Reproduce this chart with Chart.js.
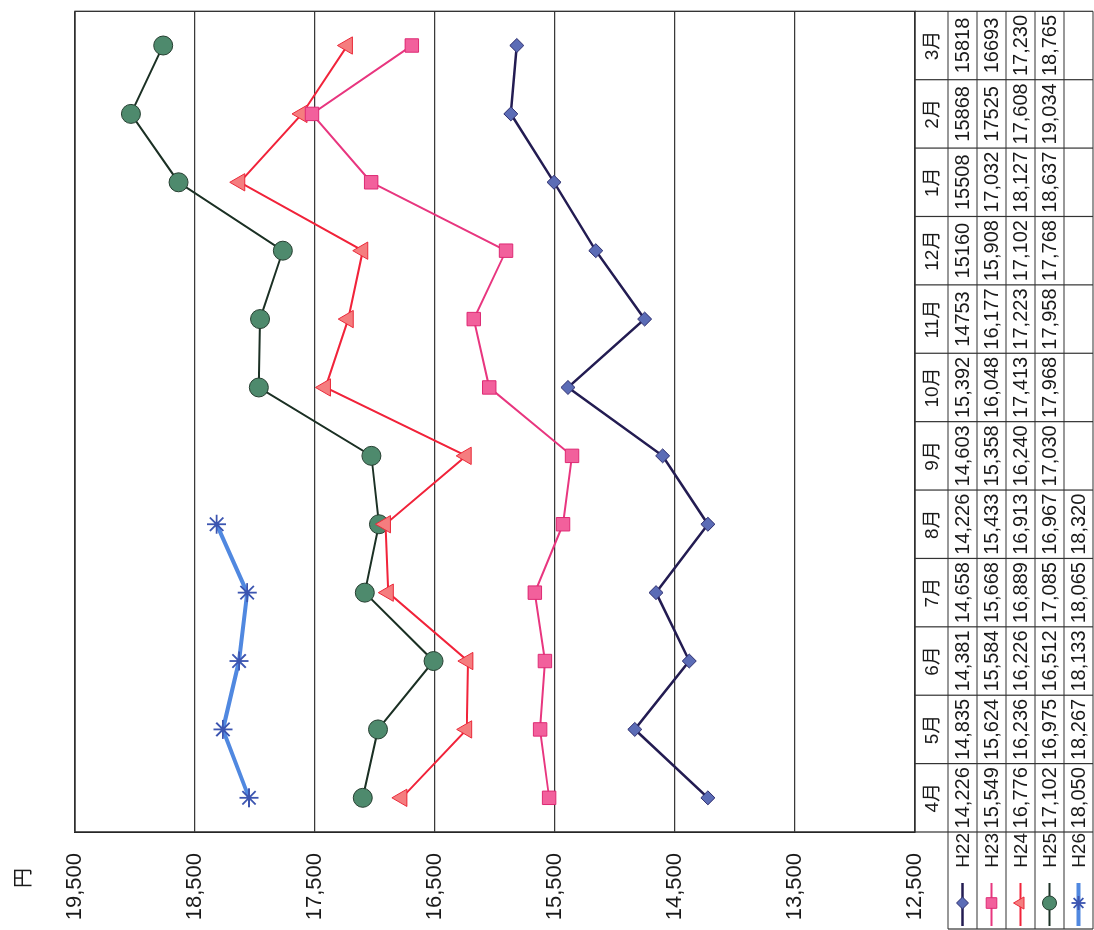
<!DOCTYPE html>
<html><head><meta charset="utf-8">
<script src="https://cdn.jsdelivr.net/npm/chart.js@4/dist/chart.umd.min.js"></script>
<style>
html,body{margin:0;padding:0;background:#fff;overflow:hidden;width:1094px;height:930px;}
#wrap{position:absolute;left:0;top:0;width:930px;height:1094px;transform-origin:0 0;transform:translateY(930px) rotate(-90deg);}
canvas{display:block;}
</style></head><body>
<div id="wrap"><canvas id="c" width="930" height="1094"></canvas></div>
<script>
// ---- data ----
const months = ['4月','5月','6月','7月','8月','9月','10月','11月','12月','1月','2月','3月'];
const seriesNames = ['H22','H23','H24','H25','H26'];
const h22 = [14226,14835,14381,14658,14226,14603,15392,14753,15160,15508,15868,15818];
const h23 = [15549,15624,15584,15668,15433,15358,16048,16177,15908,17032,17525,16693];
const h24 = [16776,16236,16226,16889,16913,16240,17413,17223,17102,18127,17608,17230];
const h25 = [17102,16975,16512,17085,16967,17030,17968,17958,17768,18637,19034,18765];
const h26 = [18050,18267,18133,18065,18320];
const valueTicks = [12500,13500,14500,15500,16500,17500,18500,19500];
const axisUnit = '円';
// table cells printed without thousands separator in the source
const plainCells = {H22:[7,8,9,10,11], H23:[10,11]};

const fontLatin = '"Liberation Sans", "Noto Sans CJK JP", sans-serif';
const fmt = v => v.toLocaleString('en-US');

const styles = [
  {line:'#231c52', w:2.5, ps:'rectRot', r:7, bg:'#5b6cb6', bd:'#2d2d6e', bw:1, lr:6},
  {line:'#e8367f', w:2, ps:'rect', r:9.5, bg:'#f2609c', bd:'#de2a74', bw:1, lr:7.5},
  {line:'#f1233a', w:2, ps:'triangle', r:10, bg:'#f57d7f', bd:'#ea2a3a', bw:1, lr:7},
  {line:'#1b3024', w:2, ps:'circle', r:9.5, bg:'#4e8a6d', bd:'#263f31', bw:1, lr:7},
  {line:'#5088e0', w:4, ps:'star', r:9.5, bg:'rgba(0,0,0,0)', bd:'#3c55b0', bw:1.8, lr:7}
];
const seriesData = [h22,h23,h24,h25,h26];

const datasets = seriesData.map((d,i)=>({
  label: seriesNames[i], data: d,
  borderColor: styles[i].line, borderWidth: styles[i].w, tension: 0,
  pointStyle: styles[i].ps, pointRadius: styles[i].r,
  pointBackgroundColor: styles[i].bg, pointBorderColor: styles[i].bd,
  pointBorderWidth: styles[i].bw, fill:false
}));

const tablePlugin = {
  id:'tbl',
  beforeDatasetsDraw(chart){
    const {ctx, chartArea:a} = chart;
    ctx.save(); ctx.strokeStyle='#2a2a2a'; ctx.lineWidth=1.3;
    ctx.strokeRect(a.left, a.top, a.right-a.left, a.bottom-a.top);
    ctx.restore();
  },
  afterDraw(chart){
    const {ctx, chartArea:a, scales:{x}} = chart;
    const colW = (a.right-a.left)/months.length;
    const headTop = a.bottom, headBot = a.bottom+33, rowH = 29;
    const rows = seriesNames.length;
    const tblBot = headBot + rows*rowH;
    ctx.save();
    ctx.strokeStyle='#333'; ctx.lineWidth=1.2;
    ctx.beginPath();
    for (let r=0;r<=rows;r++){ const v=headBot+r*rowH; ctx.moveTo(1,v); ctx.lineTo(a.right,v); }
    for (let k=0;k<=months.length;k++){ const u=a.left+k*colW; ctx.moveTo(u,headTop); ctx.lineTo(u,tblBot); }
    ctx.moveTo(1,headBot); ctx.lineTo(1,tblBot);
    ctx.stroke();
    ctx.fillStyle='#1a1a1a'; ctx.textAlign='center'; ctx.textBaseline='middle';
    ctx.font = '19px ' + fontLatin;
    months.forEach((m,i)=> ctx.fillText(m, x.getPixelForValue(i), (headTop+headBot)/2+1));
    seriesData.forEach((d,s)=>{
      const cy = headBot + s*rowH + rowH/2 + 1;
      const plain = plainCells[seriesNames[s]] || [];
      ctx.font = '20px ' + fontLatin;
      d.forEach((v,i)=>{
        const t = plain.includes(i) ? String(v) : fmt(v);
        ctx.fillText(t, x.getPixelForValue(i), cy);
      });
      // legend key
      const st = styles[s];
      ctx.save();
      ctx.strokeStyle = st.line; ctx.lineWidth = st.w;
      ctx.beginPath(); ctx.moveTo(4, cy-1); ctx.lineTo(47, cy-1); ctx.stroke();
      ctx.fillStyle = st.bg; ctx.strokeStyle = st.bd; ctx.lineWidth = st.bw;
      Chart.helpers.drawPoint(ctx, {pointStyle: st.ps, radius: st.lr, rotation: 0, borderWidth: st.bw}, 27, cy-1);
      ctx.restore();
      ctx.save();
      ctx.textAlign='right'; ctx.font='19px ' + fontLatin; ctx.fillStyle='#1a1a1a';
      ctx.fillText(seriesNames[s], 97, cy);
      ctx.restore();
    });
    // unit label
    ctx.font = '20px "Noto Sans CJK JP", sans-serif';
    ctx.textAlign='center';
    ctx.fillText(axisUnit, 52, 22);
    ctx.restore();
  }
};

new Chart(document.getElementById('c'), {
  type:'line',
  data:{ labels: months, datasets },
  options:{
    responsive:false, animation:false, devicePixelRatio:1, events:[],
    layout:{ padding:{ top:75, bottom:179, left:0, right:6 } },
    plugins:{ legend:{display:false}, tooltip:{enabled:false}, title:{display:false} },
    scales:{
      x:{ type:'category', display:false, offset:true },
      y:{
        min:12500, max:19500,
        afterBuildTicks: sc => { sc.ticks = valueTicks.map(v=>({value:v})); },
        afterFit: sc => { sc.width = 98; },
        grid:{ color:'#3a3a3a', lineWidth:1.2, drawTicks:false },
        border:{ display:true, color:'#222', width:1.3 },
        ticks:{ padding:21, color:'#1a1a1a', font:{ family: fontLatin, size:22 },
          callback: v => fmt(v) }
      }
    }
  },
  plugins:[tablePlugin]
});
</script>
</body></html>
